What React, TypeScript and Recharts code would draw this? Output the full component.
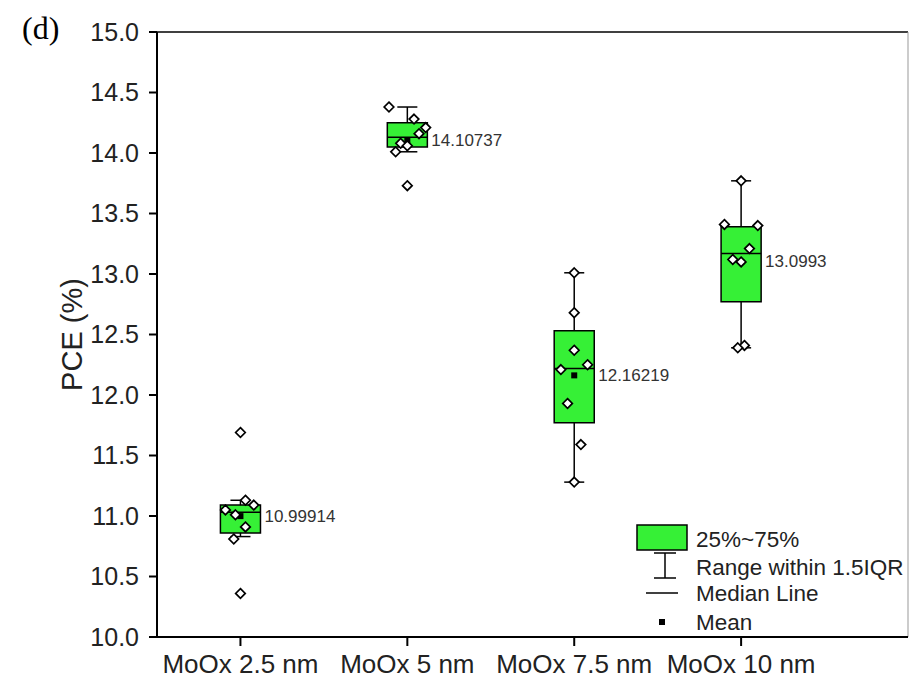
import { ScatterChart, Scatter, XAxis, YAxis, ReferenceArea, ReferenceLine, Legend } from "recharts"

const categories = ["MoOx 2.5 nm", "MoOx 5 nm", "MoOx 7.5 nm", "MoOx 10 nm"]
const yTicks = [10.0, 10.5, 11.0, 11.5, 12.0, 12.5, 13.0, 13.5, 14.0, 14.5, 15.0]

// raw PCE values per device
const pce25 = [11.69, 11.13, 11.09, 11.05, 11.01, 10.91, 10.81, 10.36]
const pce5 = [14.38, 14.28, 14.21, 14.16, 14.08, 14.06, 14.01, 13.73]
const pce75 = [13.01, 12.68, 12.37, 12.25, 12.21, 11.93, 11.59, 11.28]
const pce10 = [13.77, 13.41, 13.40, 13.21, 13.12, 13.10, 12.41, 12.39]

// horizontal jitter of the points (category units)
const jit25 = [0, 0.03, 0.08, -0.09, -0.03, 0.03, -0.04, 0]
const jit5 = [-0.11, 0.04, 0.11, 0.07, -0.04, 0, -0.07, 0]
const jit75 = [0, 0, 0, 0.08, -0.08, -0.04, 0.04, 0]
const jit10 = [0, -0.1, 0.1, 0.05, -0.05, 0, 0.02, -0.02]

// box statistics
const q1 = [10.86, 14.05, 11.77, 12.77]
const medians = [11.03, 14.13, 12.22, 13.17]
const q3 = [11.09, 14.25, 12.53, 13.39]
const whiskerLow = [10.83, 14.01, 11.28, 12.39]
const whiskerHigh = [11.13, 14.38, 13.01, 13.77]
const means = [10.99914, 14.10737, 12.16219, 13.0993]

const legendLabels = ["25%~75%", "Range within 1.5IQR", "Median Line", "Mean"]

const GREEN = "#36f036"
const BOX_HALF = 0.12
const CAP_HALF = 0.06
const FONT = "'Liberation Sans', Arial, sans-serif"

const groups = [pce25, pce5, pce75, pce10]
const jitters = [jit25, jit5, jit75, jit10]

const pointData = groups.flatMap((vals, i) =>
  vals.map((v, j) => ({ x: i + 1 + jitters[i][j], y: v }))
)
const meanData = means.map((m, i) => ({ x: i + 1, y: m, label: String(m) }))

const Diamond = (props: any) => {
  const { cx, cy } = props
  const r = 4.8
  return (
    <polygon
      points={`${cx},${cy - r} ${cx + r},${cy} ${cx},${cy + r} ${cx - r},${cy}`}
      fill="#fff"
      stroke="#000"
      strokeWidth={1.7}
    />
  )
}

const MeanMark = (props: any) => {
  const { cx, cy, payload } = props
  return (
    <g>
      <rect x={cx - 3} y={cy - 3} width={6} height={6} fill="#000" />
      <text
        x={cx + 24}
        y={cy}
        dominantBaseline="central"
        fontSize={17}
        fill="#333"
        fontFamily={FONT}
      >
        {payload.label}
      </text>
    </g>
  )
}

const BoxLegend = () => (
  <svg width={280} height={120} style={{ fontFamily: FONT }}>
    <rect x={7} y={10} width={50} height={25} fill={GREEN} stroke="#000" strokeWidth={1.5} />
    <line x1={35} y1={38} x2={35} y2={63} stroke="#000" strokeWidth={1.5} />
    <line x1={24} y1={38} x2={46} y2={38} stroke="#000" strokeWidth={1.5} />
    <line x1={24} y1={63} x2={46} y2={63} stroke="#000" strokeWidth={1.5} />
    <line x1={16} y1={78} x2={48} y2={78} stroke="#000" strokeWidth={1.5} />
    <rect x={29} y={104} width={6} height={6} fill="#000" />
    {legendLabels.map((t, i) => (
      <text key={t} x={66} y={[24, 52, 78, 107][i]} dominantBaseline="central" fontSize={22.5} fill="#222">
        {t}
      </text>
    ))}
  </svg>
)

const App = () => {
  return (
    <div style={{ position: "absolute", left: 0, top: 0, width: 912, height: 687, background: "#fff" }}>
      <div
        style={{
          position: "absolute",
          left: 22,
          top: 12,
          fontFamily: "'Liberation Serif', 'Times New Roman', serif",
          fontSize: 32,
          lineHeight: 1,
        }}
      >
        (d)
      </div>
      <ScatterChart width={912} height={687} margin={{ top: 32, right: 4, bottom: 5, left: 57 }}>
        <XAxis
          type="number"
          dataKey="x"
          domain={[0.5, 5]}
          ticks={[1, 2, 3, 4]}
          interval={0}
          allowDataOverflow
          tickFormatter={(v) => categories[v - 1]}
          tick={{ fill: "#222", fontSize: 26, fontFamily: FONT }}
          tickSize={9}
          tickMargin={9}
          height={45}
          axisLine={{ stroke: "#000", strokeWidth: 2 }}
          tickLine={{ stroke: "#000", strokeWidth: 2 }}
        />
        <YAxis
          type="number"
          dataKey="y"
          domain={[10, 15]}
          ticks={yTicks}
          interval={0}
          tickFormatter={(v) => v.toFixed(1)}
          tick={{ fill: "#222", fontSize: 25, fontFamily: FONT }}
          tickSize={8}
          tickMargin={10}
          width={100}
          axisLine={{ stroke: "#000", strokeWidth: 2 }}
          tickLine={{ stroke: "#000", strokeWidth: 2 }}
          label={{
            value: "PCE (%)",
            angle: -90,
            position: "insideLeft",
            offset: 15,
            style: { textAnchor: "middle", fontSize: 29, fill: "#222", fontFamily: FONT },
          }}
        />
        <ReferenceLine y={15} stroke="#000" strokeWidth={1.5} />
        <ReferenceLine x={5} stroke="#999" strokeWidth={1} />

        {categories.map((c, i) => (
          <ReferenceLine
            key={c + "-lo"}
            segment={[{ x: i + 1, y: whiskerLow[i] }, { x: i + 1, y: q1[i] }]}
            stroke="#000"
            strokeWidth={1.5}
          />
        ))}
        {categories.map((c, i) => (
          <ReferenceLine
            key={c + "-hi"}
            segment={[{ x: i + 1, y: q3[i] }, { x: i + 1, y: whiskerHigh[i] }]}
            stroke="#000"
            strokeWidth={1.5}
          />
        ))}
        {categories.map((c, i) => (
          <ReferenceLine
            key={c + "-caplo"}
            segment={[{ x: i + 1 - CAP_HALF, y: whiskerLow[i] }, { x: i + 1 + CAP_HALF, y: whiskerLow[i] }]}
            stroke="#000"
            strokeWidth={1.5}
          />
        ))}
        {categories.map((c, i) => (
          <ReferenceLine
            key={c + "-caphi"}
            segment={[{ x: i + 1 - CAP_HALF, y: whiskerHigh[i] }, { x: i + 1 + CAP_HALF, y: whiskerHigh[i] }]}
            stroke="#000"
            strokeWidth={1.5}
          />
        ))}
        {categories.map((c, i) => (
          <ReferenceArea
            key={c + "-box"}
            x1={i + 1 - BOX_HALF}
            x2={i + 1 + BOX_HALF}
            y1={q1[i]}
            y2={q3[i]}
            fill={GREEN}
            fillOpacity={1}
            stroke="#000"
            strokeWidth={1.5}
          />
        ))}
        {categories.map((c, i) => (
          <ReferenceLine
            key={c + "-med"}
            segment={[{ x: i + 1 - BOX_HALF, y: medians[i] }, { x: i + 1 + BOX_HALF, y: medians[i] }]}
            stroke="#000"
            strokeWidth={1.5}
          />
        ))}

        <Scatter data={meanData} shape={<MeanMark />} isAnimationActive={false} />
        <Scatter data={pointData} shape={<Diamond />} isAnimationActive={false} />

        <Legend
          layout="vertical"
          align="center"
          verticalAlign="middle"
          content={() => <BoxLegend />}
          wrapperStyle={{ left: 630, top: 515, width: 280, height: 120 }}
        />
      </ScatterChart>
    </div>
  )
}

export default App
